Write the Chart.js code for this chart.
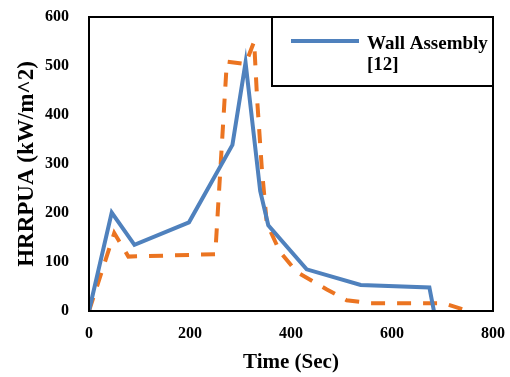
<!DOCTYPE html>
<html>
<head>
<meta charset="utf-8">
<script src="https://cdn.jsdelivr.net/npm/chart.js@4.4.1/dist/chart.umd.min.js"></script>
<style>
  html, body { margin: 0; padding: 0; background: #fff; }
  #wrap { width: 510px; height: 377px; position: relative; }
</style>
</head>
<body>
<div id="wrap"><canvas id="hrr_chart"></canvas></div>
<script>
// measured wall assembly curve
const wallTime = [0, 45, 90, 198, 284, 310, 339, 355, 431, 538, 674, 683];
const wallHrr = [0, 201, 135, 181, 339, 507, 245, 175, 85, 53, 48, 0];

// second (dashed) curve
const modelTime = [0, 50, 78, 250, 273, 310, 327, 333, 342, 352, 378, 411, 471, 510, 556, 702, 751];
const modelHrr = [0, 159, 111, 116, 509, 504, 550, 431, 294, 179, 121, 80, 44, 22, 16, 16, 0];

const xTicks = [0, 200, 400, 600, 800];
const yTicks = [0, 100, 200, 300, 400, 500, 600];

const BLUE = "#4F81BD";
const ORANGE = "#EB7421";
const FONT = "'Liberation Serif', 'Times New Roman', serif";

function toPoints(xs, ys) {
  return xs.map((x, i) => ({ x: x, y: ys[i] }));
}

// black frame round the plot area plus the boxed legend
const frameAndLegend = {
  id: "frameAndLegend",
  afterDraw(chart) {
    const { ctx, chartArea: a } = chart;
    ctx.save();
    ctx.strokeStyle = "#000";
    ctx.lineWidth = 2;
    ctx.strokeRect(a.left, a.top, a.right - a.left, a.bottom - a.top);

    // legend box in the top right corner
    const bx = 272, by = a.top, bw = a.right - 272, bh = 69;
    ctx.fillStyle = "#fff";
    ctx.fillRect(bx, by, bw, bh);
    ctx.lineWidth = 2;
    ctx.strokeRect(bx, by, bw, bh);

    ctx.strokeStyle = BLUE;
    ctx.lineWidth = 4;
    ctx.beginPath();
    ctx.moveTo(291, by + 24);
    ctx.lineTo(359, by + 24);
    ctx.stroke();

    ctx.fillStyle = "#000";
    ctx.font = "bold 19px " + FONT;
    ctx.textBaseline = "alphabetic";
    ctx.textAlign = "left";
    ctx.fillText("Wall Assembly", 367, by + 32);
    ctx.fillText("[12]", 367, by + 53);
    ctx.restore();
  },
};

const ctx = document.getElementById("hrr_chart");

const chart = new Chart(ctx, {
  type: "scatter",
  data: {
    datasets: [
      {
        label: "Wall Assembly [12]",
        data: toPoints(wallTime, wallHrr),
        showLine: true,
        borderColor: BLUE,
        backgroundColor: BLUE,
        borderWidth: 4,
        pointRadius: 0,
        tension: 0,
      },
      {
        label: "Model",
        data: toPoints(modelTime, modelHrr),
        showLine: true,
        borderColor: ORANGE,
        backgroundColor: ORANGE,
        borderWidth: 4,
        borderDash: [14, 12],
        pointRadius: 0,
        tension: 0,
      },
    ],
  },
  options: {
    responsive: true,
    maintainAspectRatio: false,
    animation: false,
    layout: { padding: { left: 0, top: 17, right: 17, bottom: 0 } },
    plugins: {
      legend: { display: false },
      tooltip: { enabled: false },
    },
    scales: {
      x: {
        type: "linear",
        min: 0,
        max: 800,
        afterBuildTicks: (scale) => {
          scale.ticks = xTicks.map((v) => ({ value: v }));
        },
        afterFit: (scale) => {
          scale.height = 66;
          scale.paddingLeft = 0;
          scale.paddingRight = 0;
        },
        grid: { display: false, drawTicks: false },
        border: { display: false },
        ticks: {
          padding: 13,
          color: "#000",
          font: { family: FONT, size: 16, weight: "bold" },
        },
        title: {
          display: true,
          text: "Time (Sec)",
          color: "#000",
          padding: 2,
          font: { family: FONT, size: 21, weight: "bold" },
        },
      },
      y: {
        type: "linear",
        min: 0,
        max: 600,
        afterBuildTicks: (scale) => {
          scale.ticks = yTicks.map((v) => ({ value: v }));
        },
        afterFit: (scale) => {
          scale.width = 89;
          scale.paddingTop = 0;
          scale.paddingBottom = 0;
        },
        grid: { display: false, drawTicks: false },
        border: { display: false },
        ticks: {
          padding: 20,
          color: "#000",
          font: { family: FONT, size: 16, weight: "bold" },
        },
        title: {
          display: true,
          text: "HRRPUA (kW/m^2)",
          color: "#000",
          padding: 13,
          font: { family: FONT, size: 23, weight: "bold" },
        },
      },
    },
  },
  plugins: [frameAndLegend],
});
</script>
</body>
</html>
